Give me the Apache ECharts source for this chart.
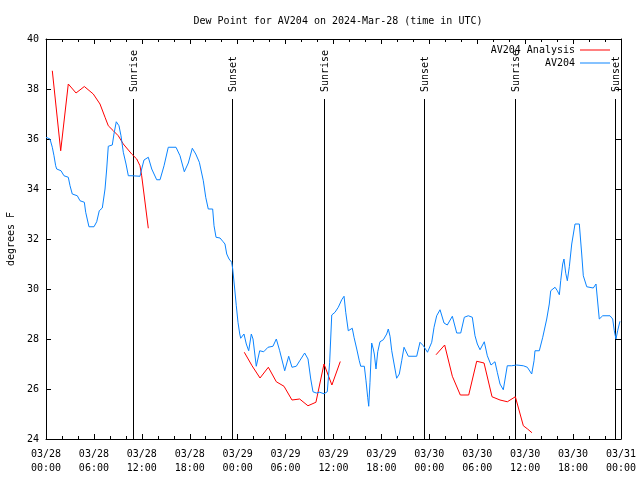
<!DOCTYPE html>
<html>
<head>
<meta charset="utf-8">
<script src="https://cdn.jsdelivr.net/npm/echarts@6/dist/echarts.min.js"></script>
<style>html,body{margin:0;padding:0;background:#fff;}#c{width:640px;height:480px;}</style>
</head>
<body>
<div id="c"></div>
<script>
// hours since 03/28 00:00 UTC, dew point (F)
var xTickLabels = ['03/28\n00:00','03/28\n06:00','03/28\n12:00','03/28\n18:00','03/29\n00:00','03/29\n06:00','03/29\n12:00','03/29\n18:00','03/30\n00:00','03/30\n06:00','03/30\n12:00','03/30\n18:00','03/31\n00:00'];
var yTicks = [24, 26, 28, 30, 32, 34, 36, 38, 40];

var analysisSeg1 = [[0.79,38.73],[1.84,35.53],[2.79,38.2],[3.76,37.84],[4.80,38.1],[5.92,37.8],[6.76,37.4],[7.39,36.87],[7.80,36.53],[8.43,36.33],[9.05,36.13],[9.68,35.8],[10.73,35.4],[11.36,35.2],[11.77,34.93],[11.98,34.53],[12.81,32.43]];
var analysisSeg2 = [[24.83,27.47],[25.80,26.93],[26.80,26.44],[27.84,26.87],[28.84,26.29],[29.80,26.11],[30.80,25.56],[31.76,25.6],[32.80,25.33],[33.80,25.47],[34.81,27.0],[35.80,26.16],[36.85,27.1]];
var analysisSeg3 = [[48.84,27.37],[49.92,27.76],[50.88,26.51],[51.88,25.76],[52.93,25.76],[53.93,27.11],[54.85,27.04],[55.85,25.69],[56.85,25.56],[57.77,25.49],[58.77,25.69],[59.77,24.53],[60.3,24.4],[60.85,24.25]];

var stationData = [[0,36.07],[0.5,36.0],[0.79,35.67],[1.0,35.33],[1.21,34.93],[1.34,34.8],[1.88,34.73],[2.25,34.53],[2.79,34.47],[3.01,34.13],[3.29,33.8],[3.92,33.73],[4.26,33.53],[4.80,33.47],[4.97,33.07],[5.38,32.49],[6.01,32.49],[6.35,32.69],[6.67,33.13],[7.05,33.24],[7.39,34.0],[7.60,34.8],[7.80,35.71],[8.30,35.76],[8.51,36.2],[8.80,36.69],[9.14,36.53],[9.39,36.13],[9.68,35.47],[10.02,35.0],[10.31,34.53],[10.77,34.53],[11.77,34.51],[11.98,34.8],[12.27,35.16],[12.81,35.27],[13.24,34.8],[13.86,34.37],[14.28,34.37],[14.78,34.93],[15.31,35.67],[16.28,35.67],[16.78,35.33],[17.32,34.69],[17.82,35.04],[18.32,35.63],[18.75,35.4],[19.20,35.07],[19.70,34.33],[20.0,33.67],[20.32,33.2],[20.87,33.2],[21.04,32.53],[21.29,32.07],[21.79,32.04],[22.13,31.91],[22.41,31.8],[22.63,31.4],[22.92,31.2],[23.25,31.07],[23.38,30.8],[23.63,30.0],[23.83,29.33],[24.04,28.67],[24.26,28.2],[24.38,28.03],[24.79,28.2],[25.08,27.8],[25.38,27.53],[25.71,28.2],[25.92,28.0],[26.33,26.91],[26.76,27.53],[27.26,27.49],[27.80,27.67],[28.42,27.71],[28.84,28.0],[29.26,27.53],[29.89,26.73],[30.39,27.31],[30.80,26.87],[31.34,26.91],[31.77,27.13],[32.39,27.44],[32.81,27.2],[33.15,26.4],[33.43,25.89],[33.85,25.84],[34.27,25.87],[34.81,25.81],[35.22,25.89],[35.52,27.07],[35.78,28.96],[36.19,29.07],[36.60,29.27],[37.03,29.57],[37.32,29.71],[37.53,29.07],[37.85,28.33],[38.07,28.4],[38.35,28.43],[38.57,28.07],[38.91,27.6],[39.23,27.13],[39.41,26.91],[39.86,26.91],[40.07,26.33],[40.28,25.67],[40.41,25.31],[40.57,26.27],[40.78,27.84],[40.98,27.6],[41.11,27.4],[41.32,26.8],[41.54,27.49],[41.82,27.89],[42.24,27.97],[42.66,28.2],[42.86,28.4],[43.08,28.11],[43.29,27.53],[43.61,26.96],[43.91,26.43],[44.24,26.6],[44.54,27.13],[44.83,27.67],[45.37,27.31],[46.42,27.31],[46.83,27.87],[47.25,27.73],[47.77,27.47],[48.30,27.87],[48.59,28.47],[48.92,28.93],[49.34,29.17],[49.84,28.64],[50.25,28.56],[50.88,28.91],[51.43,28.24],[51.93,28.24],[52.38,28.87],[52.88,28.93],[53.38,28.87],[53.72,28.13],[54.01,27.8],[54.35,27.57],[54.88,27.89],[55.26,27.33],[55.72,26.96],[56.22,27.09],[56.51,26.67],[56.85,26.2],[57.26,25.97],[57.76,26.93],[58.31,26.93],[58.94,26.96],[59.77,26.93],[60.27,26.87],[60.82,26.6],[61.11,27.13],[61.23,27.53],[61.77,27.53],[62.20,28.07],[62.70,28.8],[63.02,29.4],[63.20,29.93],[63.74,30.07],[64.03,29.93],[64.28,29.77],[64.45,30.33],[64.70,31.0],[64.86,31.2],[65.08,30.63],[65.28,30.33],[65.53,30.89],[65.83,31.8],[66.24,32.6],[66.78,32.6],[67.08,31.4],[67.28,30.53],[67.71,30.09],[68.53,30.04],[68.87,30.2],[69.28,28.8],[69.71,28.93],[70.62,28.93],[70.96,28.8],[71.16,28.33],[71.37,28.0],[71.58,28.33],[71.87,28.71]];

var sunTimes = [10.89, 23.29, 34.81, 47.33, 58.78, 71.25];
var sunLabels = ['Sunrise','Sunset','Sunrise','Sunset','Sunrise','Sunset'];
var sunLineTop = 37.6;

var FONT = 'DejaVu Sans Mono';
var RED = '#ff0000', BLUE = '#0a84ff';

var chart = echarts.init(document.getElementById('c'), null, {renderer:'canvas'});

function xAxisCfg(pos, showLabel){
  return {
    type:'value', position:pos, min:0, max:72, interval:6,
    axisLine:{show:true, onZero:false, lineStyle:{color:'#000', width:1}},
    axisTick:{show:true, inside:true, length:5, lineStyle:{color:'#000'}},
    minorTick:{show:true, splitNumber:3, length:3, lineStyle:{color:'#000'}},
    splitLine:{show:false}, minorSplitLine:{show:false},
    axisLabel:{show:showLabel, margin:8, color:'#000', fontFamily:FONT, fontSize:10, lineHeight:14,
      formatter:function(v){ return xTickLabels[Math.round(v/6)]; }}
  };
}
function yAxisCfg(pos, showLabel){
  var c = {
    type:'value', position:pos, min:yTicks[0], max:yTicks[yTicks.length-1], interval:2,
    axisLine:{show:true, onZero:false, lineStyle:{color:'#000', width:1}},
    axisTick:{show:true, inside:true, length:5, lineStyle:{color:'#000'}},
    splitLine:{show:false},
    axisLabel:{show:showLabel, margin:7, color:'#000', fontFamily:FONT, fontSize:10}
  };
  if (showLabel) {
    c.name = 'degrees F'; c.nameLocation = 'middle'; c.nameGap = 30; c.nameRotate = 90;
    c.nameTextStyle = {color:'#000', fontFamily:FONT, fontSize:10};
  }
  return c;
}

function lineSeries(name, data, color){
  return {name:name, type:'line', data:data, xAxisIndex:0, yAxisIndex:0, symbol:'none', showSymbol:false,
    lineStyle:{color:color, width:1}, itemStyle:{color:color}, animation:false, z:3};
}

function legendCfg(name, top){
  return {data:[{name:name, icon:'rect'}], orient:'vertical', right:30, top:top, padding:0, align:'right',
    itemWidth:30, itemHeight:1, itemGap:0, selectedMode:false,
    textStyle:{color:'#000', fontFamily:FONT, fontSize:10}};
}

var option = {
  animation:false,
  backgroundColor:'#fff',
  title:{text:'Dew Point for AV204 on 2024-Mar-28 (time in UTC)', left:333, top:11, textAlign:'center',
    textStyle:{color:'#000', fontFamily:FONT, fontSize:10, fontWeight:'normal'}},
  legend:[legendCfg('AV204 Analysis', 45), legendCfg('AV204', 58)],
  grid:{left:46, top:39, width:575, height:400, containLabel:false, outerBoundsMode:'none'},
  xAxis:[xAxisCfg('bottom', true), xAxisCfg('top', false)],
  yAxis:[yAxisCfg('left', true), yAxisCfg('right', false)],
  series:[
    {type:'custom', xAxisIndex:0, yAxisIndex:0, data:sunTimes.map(function(t){return [t];}), z:2, silent:true,
      renderItem:function(params, api){
        var h = api.value(0);
        var top = api.coord([h, sunLineTop]);
        var bot = api.coord([h, yTicks[0]]);
        var x = Math.round(top[0]) + 0.5;
        return {type:'group', children:[
          {type:'line', shape:{x1:x, y1:top[1], x2:x, y2:bot[1]}, style:{stroke:'#000', lineWidth:1}},
          {type:'text', x:x+1, y:top[1]-7, rotation:Math.PI/2,
            style:{text:sunLabels[params.dataIndex], align:'left', verticalAlign:'middle', textAlign:'left', textVerticalAlign:'middle',
              font:'10px "' + FONT + '"', fill:'#000'}}
        ]};
      }},
    lineSeries('AV204 Analysis', analysisSeg1, RED),
    lineSeries('AV204 Analysis', analysisSeg2, RED),
    lineSeries('AV204 Analysis', analysisSeg3, RED),
    lineSeries('AV204', stationData, BLUE)
  ]
};
chart.setOption(option);
</script>
</body>
</html>
